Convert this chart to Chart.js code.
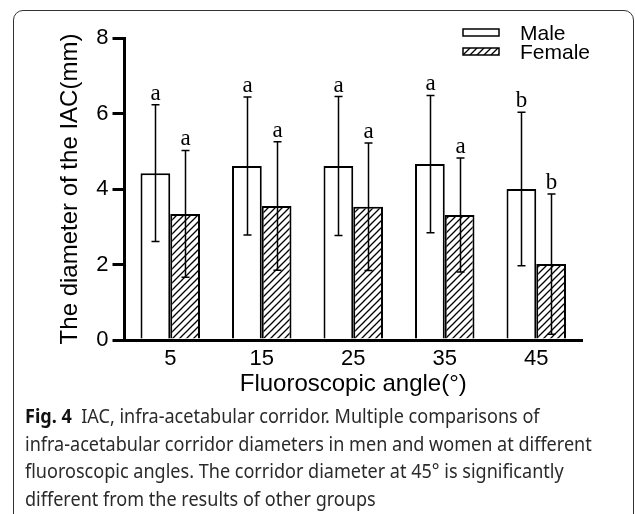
<!DOCTYPE html>
<html>
<head>
<meta charset="utf-8">
<script src="https://cdn.jsdelivr.net/npm/chart.js@4.4.0/dist/chart.umd.min.js"></script>
<style>
    html, body { margin: 0; padding: 0; background: #fff; width: 635px; height: 514px; overflow: hidden; }
    .frame { position: absolute; left: 13px; top: 10px; width: 621px; height: 600px; box-sizing: border-box;
             border: 1.3px solid #333; border-radius: 10px; }
    #wrap { position: absolute; left: 0; top: 0; width: 635px; height: 405px; }
    .caption { position: absolute; left: 25px; top: 403px; font-family: 'Noto Sans', 'Open Sans', sans-serif;
               font-size: 19px; line-height: 27.5px; color: #2a2a2a; white-space: nowrap;
               transform: scaleX(0.95); transform-origin: 0 0; }
    .caption b { font-weight: 700; color: #111; }
</style>
</head>
<body>
<div class="frame"></div>
<div id="wrap"><canvas id="iacChart"></canvas></div>
<div class="caption">
    <b>Fig. 4</b>&nbsp; IAC, infra-acetabular corridor. Multiple comparisons of<br>
    infra-acetabular corridor diameters in men and women at different<br>
    fluoroscopic angles. The corridor diameter at 45° is significantly<br>
    different from the results of other groups
</div>
<script>
// Data
const angles = ['5', '15', '25', '35', '45'];
const maleMean = [4.42, 4.61, 4.61, 4.66, 4.00];
const maleSD = [1.81, 1.83, 1.84, 1.82, 2.03];
const femaleMean = [3.34, 3.55, 3.53, 3.31, 2.01];
const femaleSD = [1.68, 1.70, 1.69, 1.51, 1.86];
const maleLetters = ['a', 'a', 'a', 'a', 'b'];
const femaleLetters = ['a', 'a', 'a', 'a', 'b'];
const yTicks = [0, 2, 4, 6, 8];

const sans = "'Liberation Sans', Arial, Helvetica, sans-serif";

// Diagonal hatch for the Female bars
function makeHatch() {
    const s = 7;
    const c = document.createElement('canvas');
    c.width = s; c.height = s;
    const g = c.getContext('2d');
    g.fillStyle = '#fff';
    g.fillRect(0, 0, s, s);
    g.strokeStyle = '#000';
    g.lineWidth = 1.3;
    g.beginPath();
    g.moveTo(0, s); g.lineTo(s, 0);
    g.moveTo(-1, 1); g.lineTo(1, -1);
    g.moveTo(s - 1, s + 1); g.lineTo(s + 1, s - 1);
    g.stroke();
    return g.createPattern(c, 'repeat');
}
const hatch = makeHatch();

// Error bars + significance letters
const errorBars = {
    id: 'errorBars',
    afterDatasetsDraw(chart) {
        const ctx = chart.ctx;
        const y = chart.scales.y;
        ctx.save();
        chart.data.datasets.forEach(function(ds, i) {
            const meta = chart.getDatasetMeta(i);
            meta.data.forEach(function(bar, j) {
                const x = Math.round(bar.x) + 0.5;
                const hi = y.getPixelForValue(ds.data[j] + ds.sd[j]);
                const lo = y.getPixelForValue(ds.data[j] - ds.sd[j]);
                ctx.strokeStyle = '#000';
                ctx.lineWidth = 1.5;
                ctx.beginPath();
                ctx.moveTo(x, hi); ctx.lineTo(x, lo);
                ctx.moveTo(x - 4, hi); ctx.lineTo(x + 4, hi);
                ctx.moveTo(x - 4, lo); ctx.lineTo(x + 4, lo);
                ctx.stroke();
                ctx.fillStyle = '#000';
                ctx.font = "23px 'Liberation Serif', 'Times New Roman', serif";
                ctx.textAlign = 'center';
                ctx.textBaseline = 'alphabetic';
                ctx.fillText(ds.letters[j], x, hi - 5);
            });
        });
        ctx.restore();
    }
};

// Legend in the top right corner
const boxLegend = {
    id: 'boxLegend',
    afterDraw(chart) {
        const ctx = chart.ctx;
        ctx.save();
        chart.data.datasets.forEach(function(ds, i) {
            const top = 29 + i * 19;
            ctx.fillStyle = ds.backgroundColor;
            ctx.fillRect(463, top, 36, 7);
            ctx.strokeStyle = '#000';
            ctx.lineWidth = 1.5;
            ctx.strokeRect(463, top, 36, 7);
            ctx.fillStyle = '#000';
            ctx.font = '21px ' + sans;
            ctx.textAlign = 'left';
            ctx.textBaseline = 'alphabetic';
            ctx.fillText(ds.label, 520, top + 11);
        });
        ctx.restore();
    }
};

const ctx = document.getElementById('iacChart').getContext('2d');
const iacChart = new Chart(ctx, {
    type: 'bar',
    data: {
        labels: angles,
        datasets: [{
            label: 'Male',
            data: maleMean,
            sd: maleSD,
            letters: maleLetters,
            backgroundColor: '#fff',
            borderColor: '#000',
            borderWidth: 2
        }, {
            label: 'Female',
            data: femaleMean,
            sd: femaleSD,
            letters: femaleLetters,
            backgroundColor: hatch,
            borderColor: '#000',
            borderWidth: 2
        }]
    },
    options: {
        responsive: true,
        maintainAspectRatio: false,
        animation: false,
        layout: {
            padding: { left: 40, top: 38, right: 53, bottom: 0 }
        },
        datasets: {
            bar: { categoryPercentage: 0.65, barPercentage: 1 }
        },
        plugins: {
            legend: { display: false },
            tooltip: { enabled: false }
        },
        scales: {
            x: {
                afterFit: function(s) { s.height = 65; },
                grid: { display: false, drawTicks: false },
                border: { display: true, color: '#000', width: 3 },
                ticks: { color: '#000', padding: 6, font: { family: sans, size: 22 } },
                title: {
                    display: true,
                    text: 'Fluoroscopic angle(°)',
                    color: '#000',
                    font: { family: sans, size: 24 },
                    padding: { top: 0, bottom: 6 }
                }
            },
            y: {
                min: 0,
                max: 8,
                afterFit: function(s) { s.width = 84.5; },
                afterBuildTicks: function(s) { s.ticks = yTicks.map(function(v) { return { value: v }; }); },
                grid: { drawOnChartArea: false, drawTicks: true, tickLength: 12, color: '#000', lineWidth: 3 },
                border: { display: true, color: '#000', width: 3 },
                ticks: { color: '#000', padding: 4, font: { family: sans, size: 22 } },
                title: {
                    display: true,
                    text: 'The diameter of the IAC(mm)',
                    color: '#000',
                    font: { family: sans, size: 24 },
                    padding: { top: 16, bottom: 0 }
                }
            }
        }
    },
    plugins: [errorBars, boxLegend]
});
</script>
</body>
</html>
